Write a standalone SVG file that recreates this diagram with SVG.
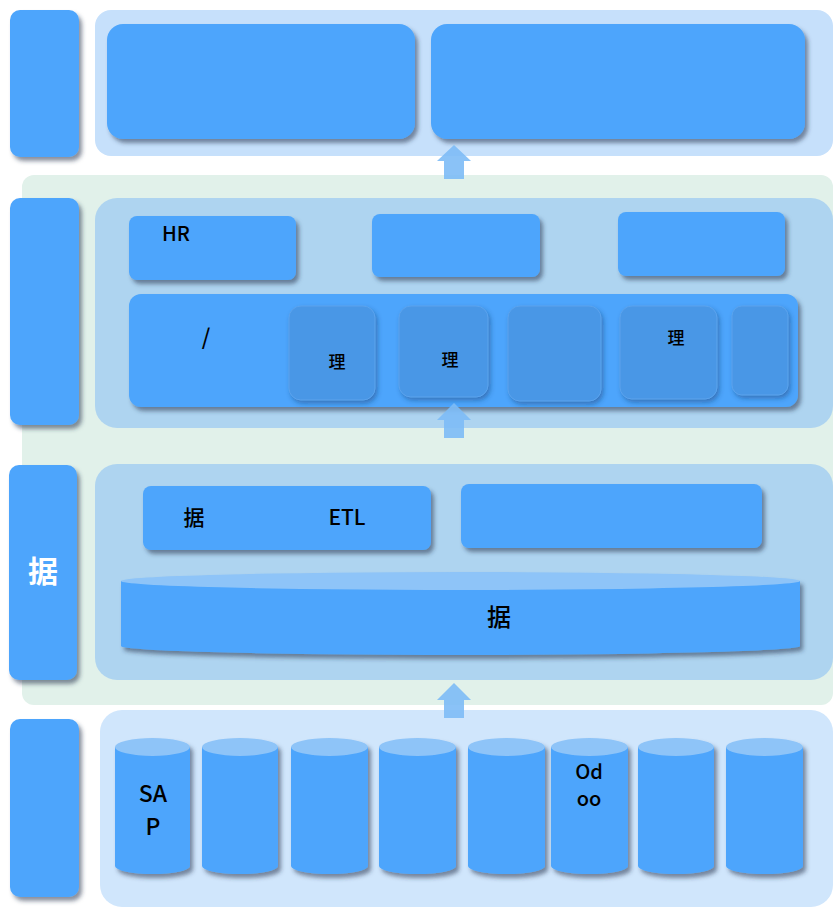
<svg xmlns="http://www.w3.org/2000/svg" width="833" height="908" viewBox="0 0 833 908">
<defs>
<filter id="sh" x="-10%" y="-10%" width="125%" height="130%">
<feDropShadow dx="3" dy="4" stdDeviation="2.2" flood-color="#2a3550" flood-opacity="0.55"/>
</filter>
<filter id="sh2" x="-10%" y="-10%" width="125%" height="130%">
<feDropShadow dx="2" dy="3" stdDeviation="2.5" flood-color="#1f3a70" flood-opacity="0.45"/>
</filter>
<style>
.b{fill:#4da5fc}
.sub{fill:#4a97e6;stroke:#5aa2ec;stroke-width:1}
.t{font-family:"Noto Sans CJK SC","Noto Sans",sans-serif;font-weight:500;fill:#000}
.ct{fill:#8ec4f8}
.ar{fill:#7dbbf6;opacity:0.9}
</style>
</defs>
<rect width="833" height="908" fill="#ffffff"/>
<rect id="green" x="22" y="175" width="811" height="530" rx="12" fill="#e1f1ea"/>
<g id="side">
<rect id="bar1" class="b" x="10" y="10" width="69" height="147" rx="10" filter="url(#sh)"/>
<rect id="bar2" class="b" x="10" y="198" width="69" height="227" rx="10" filter="url(#sh)"/>
<g id="bar3"><rect class="b" x="9" y="465" width="68" height="215" rx="10" filter="url(#sh)"/>
<text x="43" y="582" font-size="30" text-anchor="middle" class="t" style="fill:#fff;font-weight:700">据</text></g>
<rect id="bar4" class="b" x="10" y="719" width="69" height="178" rx="10" filter="url(#sh)"/>
</g>
<g id="top">
<rect x="95" y="10" width="738" height="146" rx="16" fill="#c6e0fb"/>
<rect class="b" x="107" y="24" width="308" height="115" rx="16" filter="url(#sh)"/>
<rect class="b" x="431" y="24" width="374" height="115" rx="16" filter="url(#sh)"/>
</g>
<g id="mid">
<rect x="95" y="198" width="738" height="230" rx="22" fill="#aed4f0"/>
<g id="hr"><rect class="b" x="129" y="216" width="167" height="64" rx="8" filter="url(#sh)"/>
<text x="176" y="241" font-size="20" text-anchor="middle" class="t">HR</text></g>
<rect class="b" x="372" y="214" width="168" height="63" rx="8" filter="url(#sh)"/>
<rect class="b" x="618" y="212" width="167" height="64" rx="8" filter="url(#sh)"/>
<g id="big"><rect class="b" x="129" y="294" width="669" height="113" rx="12" filter="url(#sh)"/>
<text x="206" y="345" font-size="22" text-anchor="middle" class="t">/</text>
<rect class="sub" x="289" y="306" width="86" height="94" rx="12" filter="url(#sh2)"/>
<text x="337" y="368" font-size="17" text-anchor="middle" class="t">理</text>
<rect class="sub" x="399" y="306" width="89" height="91" rx="12" filter="url(#sh2)"/>
<text x="450" y="366" font-size="17" text-anchor="middle" class="t">理</text>
<rect class="sub" x="508" y="306" width="93" height="95" rx="12" filter="url(#sh2)"/>
<rect class="sub" x="620" y="306" width="97" height="93" rx="12" filter="url(#sh2)"/>
<text x="676" y="344" font-size="17" text-anchor="middle" class="t">理</text>
<rect class="sub" x="732" y="306" width="56" height="89" rx="10" filter="url(#sh2)"/>
</g>
</g>
<g id="data">
<rect x="95" y="464" width="738" height="216" rx="22" fill="#aed4f0"/>
<g id="etl"><rect class="b" x="143" y="486" width="288" height="64" rx="8" filter="url(#sh)"/>
<text x="194" y="525" font-size="21" text-anchor="middle" class="t">据</text>
<text x="347" y="525" font-size="21" text-anchor="middle" class="t">ETL</text></g>
<rect class="b" x="461" y="484" width="301" height="64" rx="8" filter="url(#sh)"/>
<g id="disc" filter="url(#sh)">
<path class="b" d="M121 581 L121 646 A339.5 9 0 0 0 800 646 L800 581 Z"/>
<ellipse class="ct" cx="460.5" cy="581" rx="339.5" ry="9"/>
</g>
<text x="499" y="626" font-size="24" text-anchor="middle" class="t">据</text>
</g>
<g id="src">
<rect x="100" y="710" width="733" height="197" rx="22" fill="#d0e6fc"/>
<g id="c1" filter="url(#sh)"><path class="b" d="M115 747 L115 866 A37.5 8 0 0 0 190 866 L190 747 Z"/><ellipse class="ct" cx="152.5" cy="747" rx="37.5" ry="9"/></g>
<g id="c2" filter="url(#sh)"><path class="b" d="M202 747 L202 866 A38 8 0 0 0 278 866 L278 747 Z"/><ellipse class="ct" cx="240" cy="747" rx="38" ry="9"/></g>
<g id="c3" filter="url(#sh)"><path class="b" d="M291 747 L291 866 A38.5 8 0 0 0 368 866 L368 747 Z"/><ellipse class="ct" cx="329.5" cy="747" rx="38.5" ry="9"/></g>
<g id="c4" filter="url(#sh)"><path class="b" d="M379 747 L379 866 A38.5 8 0 0 0 456 866 L456 747 Z"/><ellipse class="ct" cx="417.5" cy="747" rx="38.5" ry="9"/></g>
<g id="c5" filter="url(#sh)"><path class="b" d="M468 747 L468 866 A38.5 8 0 0 0 545 866 L545 747 Z"/><ellipse class="ct" cx="506.5" cy="747" rx="38.5" ry="9"/></g>
<g id="c6" filter="url(#sh)"><path class="b" d="M551 747 L551 866 A38.5 8 0 0 0 628 866 L628 747 Z"/><ellipse class="ct" cx="589.5" cy="747" rx="38.5" ry="9"/></g>
<g id="c7" filter="url(#sh)"><path class="b" d="M638 747 L638 866 A38 8 0 0 0 714 866 L714 747 Z"/><ellipse class="ct" cx="676" cy="747" rx="38" ry="9"/></g>
<g id="c8" filter="url(#sh)"><path class="b" d="M726 747 L726 866 A38.5 8 0 0 0 803 866 L803 747 Z"/><ellipse class="ct" cx="764.5" cy="747" rx="38.5" ry="9"/></g>
<text x="153" y="802" font-size="23" text-anchor="middle" class="t">SA</text>
<text x="153" y="835" font-size="23" text-anchor="middle" class="t">P</text>
<text x="589" y="779" font-size="20" text-anchor="middle" class="t">Od</text>
<text x="589" y="806" font-size="20" text-anchor="middle" class="t">oo</text>
</g>
<g id="connectors">
<path class="ar" d="M454 145 L471 161 L464 161 L464 179 L444 179 L444 161 L437 161 Z"/>
<path class="ar" d="M454 403 L471 420 L464 420 L464 438 L444 438 L444 420 L437 420 Z"/>
<path class="ar" d="M454 683 L471 700 L464 700 L464 718 L444 718 L444 700 L437 700 Z"/>
</g>
</svg>
